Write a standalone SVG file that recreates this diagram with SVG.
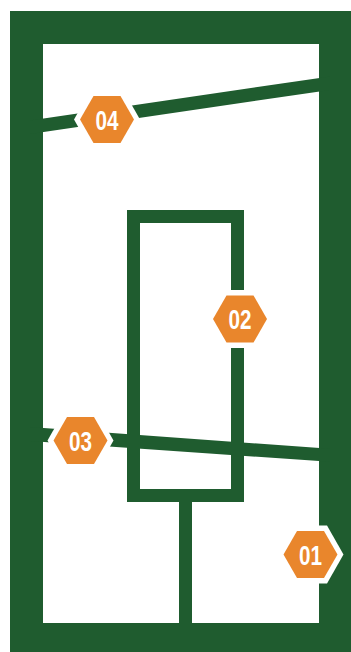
<svg xmlns="http://www.w3.org/2000/svg" width="351" height="652" viewBox="0 0 351 652">
<defs>
<style>
.g{fill:#1f5c2f}
.gs{fill:none;stroke:#1f5c2f}
.halo{fill:#ffffff}
.hex{fill:#e9862c}
.lbl{fill:#ffffff;font-family:"Liberation Sans","DejaVu Sans",sans-serif;font-weight:bold;font-size:28px;text-anchor:middle}
</style>
<polygon id="halo" points="-33,0 -16.5,-29 16.5,-29 33,0 16.5,29 -16.5,29"/>
<polygon id="hx" points="-27,0 -13.5,-23.5 13.5,-23.5 27,0 13.5,23.5 -13.5,23.5"/>
</defs>
<rect width="351" height="652" fill="#ffffff"/>
<g id="frame">
<path class="g" fill-rule="evenodd" d="M10,11 H351 V652 H10 Z M43,44 V623 H319 V44 Z"/>
</g>
<g id="walls">
<polygon class="g" points="30,120.4 330,76.4 330,89.9 30,133.9"/>
<polygon class="g" points="30,427.1 330,448.8 330,461.8 30,441.1"/>
<rect class="gs" x="133.5" y="216.5" width="104" height="279" stroke-width="13"/>
<rect class="g" x="179" y="495" width="13" height="135"/>
</g>
<g id="badge-04" transform="translate(107,119.5)">
<use href="#halo" class="halo"/><use href="#hx" class="hex"/>
<text class="lbl" transform="scale(0.74,1)" y="10">04</text>
</g>
<g id="badge-02" transform="translate(240,319)">
<use href="#halo" class="halo"/><use href="#hx" class="hex"/>
<text class="lbl" transform="scale(0.74,1)" y="10">02</text>
</g>
<g id="badge-03" transform="translate(80.5,440.5)">
<use href="#halo" class="halo"/><use href="#hx" class="hex"/>
<text class="lbl" transform="scale(0.74,1)" y="10">03</text>
</g>
<g id="badge-01" transform="translate(310.5,554.5)">
<use href="#halo" class="halo"/><use href="#hx" class="hex"/>
<text class="lbl" transform="scale(0.74,1)" y="10">01</text>
</g>
</svg>
